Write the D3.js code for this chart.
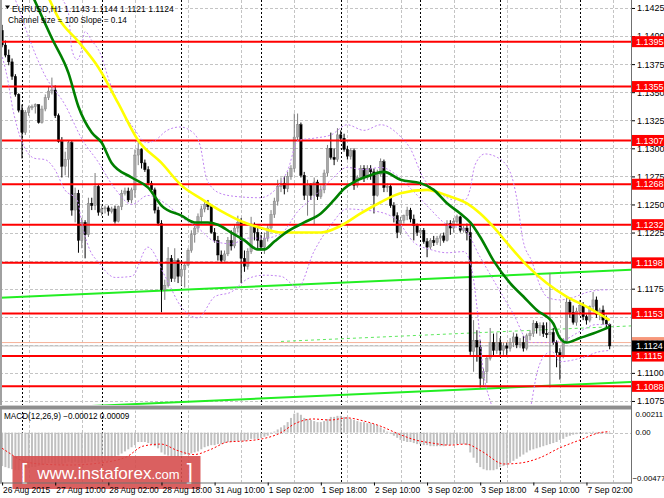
<!DOCTYPE html>
<html>
<head>
<meta charset="utf-8">
<script src="https://cdn.jsdelivr.net/npm/d3@7"></script>
<style>
  body { margin: 0; background: #fff; }
  svg { display: block; }
  text { font-family: "Liberation Sans", Arial, sans-serif; }
</style>
</head>
<body>
<svg id="chart"></svg>
<script>
// EURUSD H1, 26 Aug 2015 18:00 .. 7 Sep 2015 09:00 (one value per hourly bar)
const firstOpen = 1.1405;
const closes = [
  1.1392, 1.1383, 1.1377, 1.1364, 1.1348, 1.1334, 1.1314, 1.1332, 1.1336, 1.1337,
  1.1339, 1.1323, 1.1335, 1.1345, 1.1351, 1.1352, 1.1329, 1.1306, 1.1284, 1.1290,
  1.1305, 1.1245, 1.1260, 1.1218, 1.1234, 1.1223, 1.1251, 1.1249, 1.1266, 1.1243,
  1.1246, 1.1247, 1.1244, 1.1246, 1.1235, 1.1248, 1.1260, 1.1262, 1.1254, 1.1263,
  1.1294, 1.1299, 1.1287, 1.1281, 1.1269, 1.1263, 1.1245, 1.1233, 1.1174, 1.1178,
  1.1202, 1.1184, 1.1200, 1.1186, 1.1192, 1.1196, 1.1209, 1.1223, 1.1229, 1.1239,
  1.1246, 1.1250, 1.1248, 1.1225, 1.1218, 1.1205, 1.1200, 1.1206, 1.1218, 1.1213,
  1.1229, 1.1234, 1.1202, 1.1195, 1.1208, 1.1231, 1.1225, 1.1218, 1.1212, 1.1220,
  1.1229, 1.1241, 1.1253, 1.1266, 1.1269, 1.1264, 1.1275, 1.1282, 1.1310, 1.1321,
  1.1276, 1.1258, 1.1267, 1.1258, 1.1270, 1.1257, 1.1263, 1.1278, 1.1300, 1.1292,
  1.1290, 1.1312, 1.1309, 1.1299, 1.1293, 1.1298, 1.1267, 1.1274, 1.1282, 1.1274,
  1.1282, 1.1279, 1.1258, 1.1277, 1.1288, 1.1265, 1.1266, 1.1249, 1.1240, 1.1225,
  1.1236, 1.1240, 1.1245, 1.1237, 1.1231, 1.1225, 1.1227, 1.1217, 1.1212, 1.1218,
  1.1216, 1.1220, 1.1222, 1.1218, 1.1233, 1.1229, 1.1235, 1.1239, 1.1227, 1.1229,
  1.1225, 1.1119, 1.1129, 1.1123, 1.1095, 1.1101, 1.1113, 1.1127, 1.1120, 1.1127,
  1.1120, 1.1124, 1.1122, 1.1127, 1.1132, 1.1125, 1.1127, 1.1122, 1.1133, 1.1135,
  1.1144, 1.1140, 1.1142, 1.1135, 1.1134, 1.1136, 1.1127, 1.1118, 1.1115, 1.1128,
  1.1163, 1.1154, 1.1145, 1.1155, 1.1160, 1.1150, 1.1147, 1.1159, 1.1165, 1.1152,
  1.1156, 1.1147, 1.1143, 1.1124
];
const highs = [
  1.1410, 1.1396, 1.1388, 1.1380, 1.1366, 1.1349, 1.1339, 1.1334, 1.1338, 1.1339,
  1.1340, 1.1339, 1.1338, 1.1348, 1.1355, 1.1363, 1.1356, 1.1331, 1.1310, 1.1297,
  1.1307, 1.1307, 1.1265, 1.1263, 1.1238, 1.1236, 1.1256, 1.1256, 1.1278, 1.1268,
  1.1249, 1.1249, 1.1249, 1.1248, 1.1249, 1.1249, 1.1263, 1.1265, 1.1265, 1.1265,
  1.1299, 1.1308, 1.1300, 1.1290, 1.1284, 1.1271, 1.1265, 1.1248, 1.1236, 1.1183,
  1.1212, 1.1205, 1.1211, 1.1202, 1.1196, 1.1199, 1.1211, 1.1227, 1.1233, 1.1242,
  1.1249, 1.1254, 1.1254, 1.1250, 1.1229, 1.1222, 1.1209, 1.1209, 1.1221, 1.1227,
  1.1232, 1.1240, 1.1238, 1.1209, 1.1211, 1.1239, 1.1234, 1.1231, 1.1223, 1.1225,
  1.1232, 1.1245, 1.1256, 1.1272, 1.1274, 1.1275, 1.1279, 1.1285, 1.1331, 1.1331,
  1.1323, 1.1279, 1.1272, 1.1269, 1.1274, 1.1272, 1.1267, 1.1281, 1.1303, 1.1314,
  1.1300, 1.1318, 1.1316, 1.1313, 1.1302, 1.1300, 1.1300, 1.1276, 1.1285, 1.1285,
  1.1285, 1.1285, 1.1282, 1.1281, 1.1291, 1.1290, 1.1269, 1.1268, 1.1252, 1.1243,
  1.1239, 1.1241, 1.1248, 1.1247, 1.1241, 1.1233, 1.1229, 1.1229, 1.1220, 1.1220,
  1.1222, 1.1222, 1.1224, 1.1225, 1.1236, 1.1236, 1.1238, 1.1241, 1.1240, 1.1231,
  1.1233, 1.1233, 1.1147, 1.1138, 1.1129, 1.1104, 1.1116, 1.1140, 1.1135, 1.1136,
  1.1131, 1.1127, 1.1127, 1.1131, 1.1136, 1.1135, 1.1131, 1.1133, 1.1135, 1.1138,
  1.1147, 1.1146, 1.1145, 1.1145, 1.1145, 1.1189, 1.1140, 1.1129, 1.1122, 1.1131,
  1.1168, 1.1167, 1.1160, 1.1158, 1.1165, 1.1163, 1.1152, 1.1160, 1.1172, 1.1168,
  1.1158, 1.1160, 1.1151, 1.1144
];
const lows = [
  1.1390, 1.1381, 1.1374, 1.1361, 1.1346, 1.1332, 1.1291, 1.1312, 1.1329, 1.1334,
  1.1331, 1.1322, 1.1322, 1.1333, 1.1343, 1.1348, 1.1327, 1.1305, 1.1274, 1.1276,
  1.1274, 1.1240, 1.1234, 1.1207, 1.1211, 1.1202, 1.1221, 1.1245, 1.1245, 1.1240,
  1.1240, 1.1242, 1.1240, 1.1242, 1.1233, 1.1234, 1.1245, 1.1258, 1.1252, 1.1251,
  1.1256, 1.1285, 1.1282, 1.1279, 1.1267, 1.1260, 1.1242, 1.1231, 1.1154, 1.1165,
  1.1176, 1.1181, 1.1181, 1.1180, 1.1178, 1.1176, 1.1195, 1.1207, 1.1216, 1.1225,
  1.1233, 1.1243, 1.1245, 1.1224, 1.1216, 1.1200, 1.1198, 1.1199, 1.1204, 1.1209,
  1.1211, 1.1225, 1.1180, 1.1190, 1.1192, 1.1206, 1.1218, 1.1211, 1.1209, 1.1206,
  1.1217, 1.1225, 1.1238, 1.1249, 1.1261, 1.1259, 1.1261, 1.1272, 1.1279, 1.1307,
  1.1274, 1.1254, 1.1240, 1.1254, 1.1232, 1.1254, 1.1255, 1.1260, 1.1275, 1.1290,
  1.1285, 1.1288, 1.1306, 1.1297, 1.1290, 1.1290, 1.1263, 1.1265, 1.1272, 1.1270,
  1.1272, 1.1272, 1.1242, 1.1257, 1.1275, 1.1261, 1.1261, 1.1247, 1.1234, 1.1220,
  1.1223, 1.1233, 1.1236, 1.1234, 1.1218, 1.1222, 1.1222, 1.1215, 1.1203, 1.1210,
  1.1213, 1.1214, 1.1213, 1.1216, 1.1217, 1.1223, 1.1225, 1.1233, 1.1225, 1.1225,
  1.1218, 1.1116, 1.1101, 1.1110, 1.1087, 1.1089, 1.1091, 1.1111, 1.1115, 1.1117,
  1.1115, 1.1116, 1.1116, 1.1119, 1.1123, 1.1122, 1.1122, 1.1119, 1.1120, 1.1129,
  1.1132, 1.1135, 1.1133, 1.1132, 1.1131, 1.1087, 1.1125, 1.1105, 1.1094, 1.1113,
  1.1127, 1.1149, 1.1143, 1.1142, 1.1151, 1.1147, 1.1143, 1.1145, 1.1156, 1.1149,
  1.1147, 1.1143, 1.1140, 1.1121
];

// horizontal support / resistance levels
const levels = [1.1395, 1.1355, 1.1307, 1.1268, 1.1232, 1.1198, 1.1153, 1.1115, 1.1088];
const bid = 1.1124, ask = 1.1127;

const priceTicks = [1.1075, 1.1100, 1.1125, 1.1150, 1.1175, 1.1200, 1.1225, 1.1250,
                    1.1275, 1.1300, 1.1325, 1.1350, 1.1375, 1.1400, 1.1425];
const timeLabels = ["26 Aug 2015", "27 Aug 10:00", "28 Aug 02:00", "28 Aug 18:00",
                    "31 Aug 10:00", "1 Sep 02:00", "1 Sep 18:00", "2 Sep 10:00",
                    "3 Sep 02:00", "3 Sep 18:00", "4 Sep 10:00", "7 Sep 02:00"];
const dayStartBars = [6, 30, 54, 78, 102, 126, 150, 174];

// linear regression channel (100 bars): middle line end points, half width
const channelMid = [[84, 1.1128], [183, 1.1141]];
const channelHalf = 0.0050;

// moving averages: [bar, price]
const yellowMA = [[13, 1.1441], [17, 1.1416], [23, 1.1395], [29, 1.1372], [35, 1.1340],
  [41, 1.1307], [48, 1.1287], [54, 1.1267], [60, 1.1255], [66, 1.1244], [72, 1.1235],
  [78, 1.1229], [84, 1.1225], [90, 1.1225], [96, 1.1225], [102, 1.1231], [108, 1.1242],
  [114, 1.1252], [120, 1.1260], [128, 1.1263], [134, 1.1258], [140, 1.1251], [144, 1.1242],
  [148, 1.1230], [152, 1.1216], [158, 1.1196], [164, 1.1180], [170, 1.1168], [176, 1.1159],
  [183, 1.1147]];
const greenMA = [[9, 1.1437], [15, 1.1398], [20, 1.1367], [23, 1.1337], [27, 1.1314],
  [30, 1.1305], [33, 1.1287], [39, 1.1274], [44, 1.1265], [48, 1.1249], [54, 1.1240],
  [58, 1.1234], [62, 1.1234], [65, 1.1232], [69, 1.1225], [73, 1.1218], [77, 1.1210],
  [79, 1.1210], [82, 1.1217], [86, 1.1226], [91, 1.1234], [96, 1.1242], [100, 1.1254],
  [103, 1.1264], [106, 1.1270], [110, 1.1275], [115, 1.1279], [120, 1.1272], [126, 1.1269],
  [130, 1.1263], [134, 1.1251], [138, 1.1242], [141, 1.1234], [144, 1.1221], [148, 1.1200],
  [153, 1.1180], [157, 1.1168], [161, 1.1156], [166, 1.1144], [168, 1.1131], [170, 1.1127],
  [174, 1.1131], [178, 1.1135], [183, 1.1141]];

// Bollinger bands (dotted violet)
const bbUpper = [[16, 1.1450], [18, 1.1434], [20, 1.1420], [21, 1.1388], [22.6, 1.1379],
  [23.5, 1.1383], [25, 1.1404], [27, 1.1396], [29.5, 1.1385], [32.5, 1.1358], [35.5, 1.1337],
  [39.4, 1.1319], [43.6, 1.1305], [46, 1.1307], [49.7, 1.1316], [53.6, 1.1319], [57.5, 1.1314],
  [59.6, 1.1303], [61.7, 1.1272], [65.6, 1.1260], [70.8, 1.1257], [77.7, 1.1256], [82.2, 1.1263],
  [86.1, 1.1281], [89.1, 1.1307], [93.9, 1.1309], [99.1, 1.1312], [103.9, 1.1321], [109, 1.1316],
  [114.1, 1.1321], [119.8, 1.1311], [122.9, 1.1300], [126.8, 1.1274], [131.9, 1.1260],
  [136.4, 1.1254], [139.4, 1.1254], [140.9, 1.1263], [142.4, 1.1285], [145.4, 1.1295],
  [149.1, 1.1292], [153, 1.1279], [155.1, 1.1254], [156.9, 1.1218], [159.6, 1.1199],
  [162, 1.1178], [164.4, 1.1167], [168, 1.1165], [171.7, 1.1167], [176.5, 1.1172],
  [181.6, 1.1174], [183, 1.1174]];
const bbMiddle = [[2.4, 1.1445], [5.4, 1.1421], [8.4, 1.1396], [12.9, 1.1365], [18.9, 1.1339],
  [24.1, 1.1308], [28.9, 1.1288], [34, 1.1264], [39.1, 1.1250], [43.9, 1.1258], [49.1, 1.1251],
  [53.9, 1.1239], [59, 1.1229], [64.1, 1.1217], [69, 1.1215], [74.1, 1.1220], [78.9, 1.1220],
  [84, 1.1224], [89.1, 1.1244], [93.9, 1.1257], [99.1, 1.1272], [103.9, 1.1283], [109, 1.1281],
  [114.1, 1.1283], [118.9, 1.1276], [124.1, 1.1261], [128.9, 1.1246], [134, 1.1232],
  [139.1, 1.1228], [144, 1.1203], [149.1, 1.1177], [153.9, 1.1153], [159, 1.1127],
  [164.1, 1.1127], [169, 1.1129], [174.1, 1.1137], [178.9, 1.1143], [183, 1.1143]];
const bbLower = [[-0.6, 1.1388], [1.5, 1.1364], [3.3, 1.1334], [4.8, 1.1316], [6.9, 1.1300],
  [9.9, 1.1291], [12.9, 1.1290], [15.9, 1.1281], [18.9, 1.1263], [22.6, 1.1254], [24.1, 1.1232],
  [26.5, 1.1209], [28.9, 1.1199], [34, 1.1185], [39.1, 1.1186], [43.9, 1.1212], [49.1, 1.1186],
  [53.9, 1.1159], [59, 1.1149], [64.1, 1.1168], [69, 1.1172], [74.1, 1.1184], [78.9, 1.1187],
  [84, 1.1186], [89.1, 1.1176], [93.9, 1.1208], [99.1, 1.1232], [103.9, 1.1246], [109, 1.1245],
  [114.1, 1.1243], [118.9, 1.1236], [124.1, 1.1216], [128.9, 1.1210], [134, 1.1207],
  [139.1, 1.1208], [141.5, 1.1192], [143, 1.1159], [144.9, 1.1102], [146.9, 1.1076],
  [149.1, 1.1061], [153.9, 1.1040], [157.5, 1.1053], [159, 1.1067], [161.1, 1.1100],
  [163.5, 1.1116], [165.6, 1.1119], [168, 1.1110], [174.1, 1.1113], [180.1, 1.1119],
  [183, 1.1120]];

// MACD(12,26,9): main histogram per bar, signal line samples [bar, value]
const macdMain = [
  -0.0032, -0.0033, -0.0034, -0.0035, -0.0036, -0.0036, -0.0035, -0.0034, -0.0034, -0.0033,
  -0.0033, -0.0032, -0.0031, -0.0030, -0.0029, -0.0029, -0.0030, -0.0030, -0.0030, -0.0029,
  -0.0028, -0.0029, -0.0028, -0.0029, -0.0029, -0.0029, -0.0028, -0.0028, -0.0027, -0.0028,
  -0.0028, -0.0027, -0.0027, -0.0024, -0.0023, -0.0022, -0.0020, -0.0018, -0.0016, -0.0014,
  -0.0012, -0.0009, -0.0009, -0.0009, -0.0010, -0.0011, -0.0013, -0.0015, -0.0019, -0.0021,
  -0.0022, -0.0023, -0.0023, -0.0023, -0.0022, -0.0021, -0.0021, -0.0020, -0.0019, -0.0018,
  -0.0016, -0.0014, -0.0013, -0.0012, -0.0012, -0.0011, -0.0011, -0.0010, -0.0009, -0.0009,
  -0.0008, -0.0008, -0.0008, -0.0008, -0.0007, -0.0006, -0.0006, -0.0006, -0.0005, -0.0004,
  -0.0003, -0.0001, 0.0001, 0.0003, 0.0005, 0.0007, 0.0010, 0.0014, 0.0018, 0.0019,
  0.0017, 0.0014, 0.0013, 0.0012, 0.0011, 0.0010, 0.0010, 0.0011, 0.0013, 0.0015,
  0.0015, 0.0016, 0.0016, 0.0015, 0.0015, 0.0013, 0.0012, 0.0011, 0.0010, 0.0010,
  0.0009, 0.0009, 0.0008, 0.0007, 0.0005, 0.0003, 0.0001, -0.0001, -0.0003, -0.0005,
  -0.0007, -0.0008, -0.0009, -0.0009, -0.0010, -0.0011, -0.0011, -0.0012, -0.0012, -0.0013,
  -0.0013, -0.0013, -0.0013, -0.0013, -0.0012, -0.0012, -0.0011, -0.0011, -0.0011, -0.0011,
  -0.0012, -0.0019, -0.0024, -0.0029, -0.0033, -0.0035, -0.0036, -0.0036, -0.0036, -0.0035,
  -0.0033, -0.0032, -0.0031, -0.0029, -0.0027, -0.0025, -0.0023, -0.0021, -0.0019, -0.0017,
  -0.0016, -0.0015, -0.0014, -0.0013, -0.0012, -0.0011, -0.0010, -0.0009, -0.0007, -0.0006,
  -0.0004, -0.0003, -0.0002, -0.00015, -0.0001, -0.00005, 0.00003, 0.00005, 0.00008, 0.00006,
  0.00004, 0.00002, -0.00003, -0.00012
];
const macdSignal = [[0, -0.0015], [2.4, -0.0020], [5.4, -0.0026], [11.4, -0.0030], [20.5, -0.0031],
  [29.5, -0.0029], [37.6, -0.0023], [42.4, -0.0013], [47.9, -0.0011], [52.7, -0.0017],
  [57.8, -0.0021], [62.9, -0.0016], [68, -0.0009], [73.2, -0.0008], [78.3, -0.0006],
  [83.4, -0.0001], [88.5, 0.0009], [93.6, 0.0013], [98.8, 0.0012], [103.9, 0.0014],
  [109, 0.0011], [114.1, 0.0006], [119.2, -0.0001], [124.4, -0.0007], [129.5, -0.0010],
  [134.6, -0.0012], [139.7, -0.0011], [144.5, -0.0018], [151.2, -0.0030], [156.3, -0.0029],
  [162, -0.0024], [167.7, -0.0015], [174.1, -0.0007], [180.1, 0.0000], [183, 0.00009]];
const macdTicks = [0.00211, 0.00, -0.00477];

// ---------------------------------------------------------------
const W = 664, H = 498;
const plotRight = 631;
const mainBottom = 405;
const macdTop = 410.5, macdBottom = 482.5;
const font = "'Liberation Sans', Arial, sans-serif";

const x = d3.scaleLinear().domain([0, closes.length - 1]).range([2.1, 609.7]);
const y = d3.scaleLinear().domain([1.10714, 1.14321]).range([mainBottom, 0]);
const ym = d3.scaleLinear().domain([-0.00477, 0.00211]).range([macdBottom, macdTop]);

const opens = closes.map((c, i) => (i === 0 ? firstOpen : closes[i - 1]));
const bars = closes.map((c, i) => ({
  i, o: opens[i], c,
  h: Math.max(highs[i], opens[i], c),
  l: Math.min(lows[i], opens[i], c)
}));

const svg = d3.select("#chart").attr("width", W).attr("height", H);
svg.append("rect").attr("width", W).attr("height", H).attr("fill", "#fff");

const defs = svg.append("defs");
defs.append("clipPath").attr("id", "mainClip")
  .append("rect").attr("x", 0).attr("y", 0).attr("width", plotRight).attr("height", mainBottom);
defs.append("clipPath").attr("id", "macdClip")
  .append("rect").attr("x", 0).attr("y", macdTop).attr("width", plotRight).attr("height", macdBottom - macdTop);

const main = svg.append("g").attr("clip-path", "url(#mainClip)");
const sub = svg.append("g").attr("clip-path", "url(#macdClip)");

// grid: price lines
main.append("g").selectAll("line").data(priceTicks).join("line")
  .attr("x1", 0).attr("x2", plotRight)
  .attr("y1", d => Math.round(y(d)) + 0.5).attr("y2", d => Math.round(y(d)) + 0.5)
  .attr("stroke", "#c4c4c4").attr("stroke-dasharray", "3,2");
sub.append("line")
  .attr("x1", 0).attr("x2", plotRight)
  .attr("y1", Math.round(ym(0)) + 0.5).attr("y2", Math.round(ym(0)) + 0.5)
  .attr("stroke", "#c4c4c4").attr("stroke-dasharray", "3,2");

// grid: vertical lines in the middle of each time label, day separators
const gridBars = d3.range(8, closes.length + 2, 16);
[main, sub].forEach(g => {
  g.append("g").selectAll("line").data(gridBars).join("line")
    .attr("x1", d => Math.round(x(d)) + 0.5).attr("x2", d => Math.round(x(d)) + 0.5)
    .attr("y1", 0).attr("y2", macdBottom)
    .attr("stroke", "#c4c4c4").attr("stroke-dasharray", "3,2");
  g.append("g").selectAll("line").data(dayStartBars).join("line")
    .attr("x1", d => Math.round(x(d)) + 0.5).attr("x2", d => Math.round(x(d)) + 0.5)
    .attr("y1", 0).attr("y2", macdBottom)
    .attr("stroke", "#000").attr("stroke-dasharray", "2,2");
});

// regression channel
const chSlope = (channelMid[1][1] - channelMid[0][1]) / (channelMid[1][0] - channelMid[0][0]);
const midAt = i => channelMid[0][1] + chSlope * (i - channelMid[0][0]);
const iLeft = x.invert(0), iRight = x.invert(plotRight);
[channelHalf, -channelHalf].forEach(off => {
  main.append("line")
    .attr("x1", 0).attr("y1", y(midAt(iLeft) + off))
    .attr("x2", plotRight).attr("y2", y(midAt(iRight) + off))
    .attr("stroke", "#22ee22").attr("stroke-width", 2);
});
main.append("line")
  .attr("x1", x(channelMid[0][0])).attr("y1", y(midAt(channelMid[0][0])))
  .attr("x2", plotRight).attr("y2", y(midAt(iRight)))
  .attr("stroke", "#5ee85e").attr("stroke-width", 1).attr("stroke-dasharray", "3,3");

// bid / ask lines
main.append("line").attr("x1", 0).attr("x2", plotRight)
  .attr("y1", y(ask)).attr("y2", y(ask)).attr("stroke", "#f6b197").attr("stroke-width", 1);
main.append("line").attr("x1", 0).attr("x2", plotRight)
  .attr("y1", y(bid)).attr("y2", y(bid)).attr("stroke", "#c0c0c0").attr("stroke-width", 1);

// candles
const candle = main.append("g").selectAll("g").data(bars).join("g");
candle.append("line")
  .attr("x1", d => x(d.i)).attr("x2", d => x(d.i))
  .attr("y1", d => y(d.h)).attr("y2", d => y(d.l))
  .attr("stroke", d => (d.c >= d.o ? "#7c7c7c" : "#000")).attr("stroke-width", 1);
candle.append("rect")
  .attr("x", d => x(d.i) - 1.2).attr("width", 2.4)
  .attr("y", d => y(Math.max(d.o, d.c)))
  .attr("height", d => Math.max(1, Math.abs(y(d.o) - y(d.c))))
  .attr("fill", d => (d.c >= d.o ? "#a8a8a8" : "#000"))
  .attr("stroke", d => (d.c >= d.o ? "#7c7c7c" : "#000")).attr("stroke-width", 0.4);

// red levels
main.append("g").selectAll("line").data(levels).join("line")
  .attr("x1", 0).attr("x2", plotRight)
  .attr("y1", d => y(d)).attr("y2", d => y(d))
  .attr("stroke", "#ff0000").attr("stroke-width", 2);

// indicators
const priceLine = d3.line().x(d => x(d[0])).y(d => y(d[1])).curve(d3.curveMonotoneX);
[bbUpper, bbMiddle, bbLower].forEach(band => {
  main.append("path").attr("d", priceLine(band)).attr("fill", "none")
    .attr("stroke", "#c284f2").attr("stroke-width", 1).attr("stroke-dasharray", "2,2");
});
main.append("path").attr("d", priceLine(yellowMA)).attr("fill", "none")
  .attr("stroke", "#ffff00").attr("stroke-width", 2.6);
main.append("path").attr("d", priceLine(greenMA)).attr("fill", "none")
  .attr("stroke", "#008000").attr("stroke-width", 2.6);

// MACD panel
sub.append("g").selectAll("rect").data(macdMain).join("rect")
  .attr("x", (d, i) => x(i) - 1).attr("width", 2)
  .attr("y", d => Math.min(ym(d), ym(0)))
  .attr("height", d => Math.max(0.6, Math.abs(ym(d) - ym(0))))
  .attr("fill", "#c0c0c0");
const sigLine = d3.line().x(d => x(d[0])).y(d => ym(d[1])).curve(d3.curveMonotoneX);
sub.append("path").attr("d", sigLine(macdSignal)).attr("fill", "none")
  .attr("stroke", "#ff0000").attr("stroke-width", 1).attr("stroke-dasharray", "2,2");

// watermark logo
const logo = svg.append("g");
logo.append("rect").attr("x", 12.5).attr("y", 456).attr("width", 188).attr("height", 33)
  .attr("fill", "#d64f4f").attr("opacity", 0.9);
const logoText = logo.append("text").attr("x", 21).attr("y", 479).attr("fill", "#fff")
  .style("font-family", font);
logoText.append("tspan").attr("font-size", 22).attr("font-weight", 300).text("[");
logoText.append("tspan").attr("dx", 10).attr("font-size", 17).text("www.instaforex");
logoText.append("tspan").attr("font-size", 13).text(".com");
logoText.append("tspan").attr("dx", 7).attr("font-size", 22).attr("font-weight", 300).text("]");

// frame
svg.append("rect").attr("x", 0).attr("y", 0).attr("width", 2).attr("height", macdBottom).attr("fill", "#a0a0a0");
svg.append("rect").attr("x", 0).attr("y", mainBottom).attr("width", plotRight + 1).attr("height", 4.5).attr("fill", "#8e8e8e");
svg.append("line").attr("x1", 0).attr("x2", plotRight + 1).attr("y1", mainBottom + 0.5).attr("y2", mainBottom + 0.5).attr("stroke", "#cfcfcf");
svg.append("line").attr("x1", 0).attr("x2", plotRight + 1).attr("y1", macdBottom + 0.5).attr("y2", macdBottom + 0.5).attr("stroke", "#707070");
svg.append("line").attr("x1", plotRight + 0.5).attr("x2", plotRight + 0.5).attr("y1", 0).attr("y2", macdBottom + 1).attr("stroke", "#707070");

// price axis (labels that sit fully under a price tag are left out, as the tag hides them)
const tagValues = levels.concat([ask, bid]);
const shownTicks = priceTicks.filter(p => d3.min(tagValues, v => Math.abs(y(v) - y(p))) > 4);
const pAxis = svg.append("g").attr("transform", `translate(${plotRight + 1},0)`)
  .call(d3.axisRight(y).tickValues(priceTicks).tickFormat(d3.format(".4f")).tickSize(3).tickPadding(2));
pAxis.select(".domain").remove();
pAxis.selectAll("line").attr("stroke", "#000");
pAxis.selectAll("text").attr("font-size", 9).style("font-family", font).attr("fill", "#000")
  .style("display", d => (shownTicks.includes(d) ? null : "none"));

// MACD axis labels
const macdLabelY = v => Math.min(macdBottom - 4.5, Math.max(macdTop + 3.5, ym(v)));
svg.append("g").selectAll("text").data(macdTicks).join("text")
  .attr("x", d => (d < 0 ? plotRight + 1.5 : plotRight + 4.5)).attr("y", d => macdLabelY(d)).attr("dy", "0.35em")
  .attr("font-size", 7.8).style("font-family", font).attr("fill", "#000")
  .text(d => (d === 0 ? "0.00" : d3.format(".5f")(d)));

// time axis
const tAxis = svg.append("g").attr("transform", `translate(0,${macdBottom})`)
  .call(d3.axisBottom(x).tickValues(timeLabels.map((t, k) => k * 16))
    .tickFormat((d, k) => timeLabels[k]).tickSize(3).tickPadding(1.5));
tAxis.select(".domain").remove();
tAxis.selectAll("line").attr("stroke", "#000");
tAxis.selectAll("text").attr("font-size", 8.4).style("font-family", font)
  .attr("text-anchor", "start").attr("x", 0.5).attr("fill", "#000");

// level price labels
function priceTag(value, fill) {
  const g = svg.append("g");
  g.append("rect").attr("x", plotRight + 1).attr("y", y(value) - 5.5)
    .attr("width", W - plotRight - 1).attr("height", 11).attr("fill", fill);
  g.append("text").attr("x", plotRight + 5).attr("y", y(value)).attr("dy", "0.35em")
    .attr("font-size", 9).style("font-family", font).attr("fill", "#fff")
    .text(d3.format(".4f")(value));
}
levels.forEach(v => priceTag(v, "#ff0000"));
priceTag(ask, "#f7977a");
priceTag(bid, "#000");

// header texts
const last = bars[bars.length - 1];
const f4 = d3.format(".4f");
svg.append("path").attr("d", "M5,5.5 L10,5.5 L7.5,9 Z").attr("fill", "#000");
svg.append("text").attr("x", 12).attr("y", 11.5).attr("font-size", 8.6).style("font-family", font)
  .attr("fill", "#000")
  .text(`EURUSD,H1  ${f4(last.o)} ${f4(last.h)} ${f4(last.l)} ${f4(last.c)}`);
svg.append("text").attr("x", 8).attr("y", 22.5).attr("font-size", 8.2).style("font-family", font)
  .attr("fill", "#000").text(`Channel size = 100 Slope = 0.14`);
svg.append("text").attr("x", 4).attr("y", 418.5).attr("font-size", 8.2).style("font-family", font)
  .attr("fill", "#000")
  .text(`MACD(12,26,9) ${d3.format(".5f")(macdMain[macdMain.length - 1])} ${d3.format(".5f")(macdSignal[macdSignal.length - 1][1])}`);
</script>
</body>
</html>
